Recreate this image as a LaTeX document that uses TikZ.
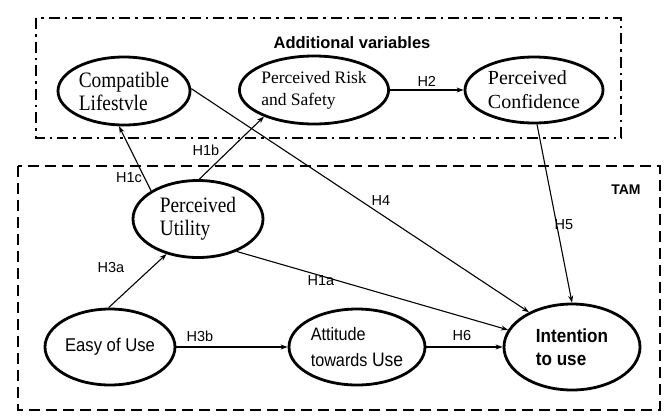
\documentclass[tikz,border=0pt]{standalone}
\usepackage{fontspec}
\setmainfont{Liberation Serif}
\setsansfont{Liberation Sans}
\newfontfamily\cserif[FakeStretch=0.88]{Liberation Serif}
\newfontfamily\csans[FakeStretch=0.9]{Liberation Sans}
\usetikzlibrary{shapes.geometric,arrows.meta}
\begin{document}
\begin{tikzpicture}[x=1pt,y=-1pt,
  var/.style={ellipse,draw,line width=2.8pt,minimum width=132pt,minimum height=68pt,inner sep=0pt,align=left},
  link/.style={line width=1.1pt,-{Stealth[length=7pt,width=5pt]}},
  hyp/.style={font=\sffamily\fontsize{14.5}{16}\selectfont},
  box/.style={line width=2.6pt}]
\useasboundingbox[fill=white] (0,0) rectangle (669,416);
% frames
\draw[box,dash pattern=on 11pt off 5pt on 2.5pt off 5pt] (36,18) rectangle (621,138);
\draw[box,dash pattern=on 11pt off 6pt] (18,166) rectangle (660,410);
\node[font=\sffamily\bfseries\fontsize{16.5}{18}\selectfont] (addvar) at (352,43) {Additional variables};
\node[font=\sffamily\bfseries\fontsize{14}{16}\selectfont] (tam) at (626,190) {TAM};
% variables
\node[var,font=\cserif\fontsize{22}{23}\selectfont] (cl) at (124,91) {Compatible\\Lifestvle};
\node[var,font=\fontsize{17.5}{22}\selectfont] (prs) at (314,90) {Perceived Risk\\and Safety};
\node[var,font=\fontsize{20}{24}\selectfont,minimum width=138pt,minimum height=66pt] (pc) at (534,90) {Perceived\\Confidence};
\node[var,font=\cserif\fontsize{22}{23}\selectfont,minimum width=130pt,minimum height=77pt] (pu) at (198,219) {Perceived\\Utility};
\node[var,font=\csans\fontsize{18.5}{24}\selectfont,minimum width=130pt,minimum height=76pt] (eou) at (110,347) {Easy of Use};
\node[var,font=\csans\fontsize{18}{26}\selectfont,minimum width=136pt,minimum height=76pt] (att) at (357,347) {Attitude\\towards {\fontsize{19.5}{26}\selectfont Use}};
\node[var,font=\csans\bfseries\fontsize{19}{23}\selectfont,minimum width=136pt,minimum height=86pt] (int) at (572,347) {Intention\\to use};
% links
\draw[link] (prs) -- node[hyp,above] {H2} (pc);
\draw[link] (pu.149) -- (cl.262);
\draw[link] (pu.88) -- (prs.208);
\draw[link] (cl.2) -- (int.141);
\draw[link] (pu.-40) -- (int.165);
\draw[link] (pc.-85) -- (int.90);
\draw[link] (eou.92) -- (pu.228);
\draw[link] (eou) -- (att);
\draw[link] (att) -- (int);
% labels
\node[hyp] (h1c) at (129,178) {H1c};
\node[hyp] (h1b) at (206,150) {H1b};
\node[hyp] (h4) at (381,201) {H4};
\node[hyp] (h1a) at (321,281) {H1a};
\node[hyp] (h5) at (564,225) {H5};
\node[hyp] (h3a) at (111,268) {H3a};
\node[hyp] (h3b) at (200,336) {H3b};
\node[hyp] (h6) at (462,335) {H6};
\end{tikzpicture}
\end{document}
